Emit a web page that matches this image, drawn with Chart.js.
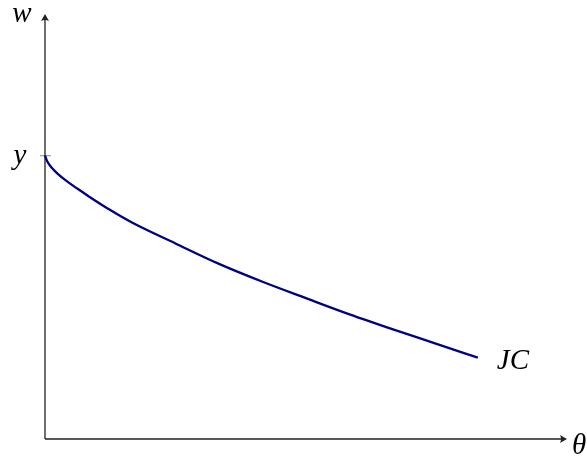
<!DOCTYPE html>
<html>
<head>
<meta charset="utf-8">
<script src="https://cdn.jsdelivr.net/npm/chart.js@4/dist/chart.umd.min.js"></script>
<style>
  html, body { margin: 0; padding: 0; background: #fff; }
  #wrap { width: 587px; height: 459px; }
</style>
</head>
<body>
<div id="wrap"><canvas id="jcChart" width="587" height="459"></canvas></div>
<script>
// theta values (x) and wage values (y)
const thetaVals = [0, 0.05, 0.15, 0.3, 0.5, 0.75, 1, 1.5, 2, 3, 4, 5, 6, 7, 8, 9, 9.95];
const wageVals = [10, 9.8, 9.58, 9.35, 9.1, 8.83, 8.57, 8.08, 7.64, 6.9, 6.18, 5.55, 4.97, 4.4, 3.87, 3.36, 2.87];
const yTickVals = [10];
const yTickLabels = ['y'];
const curveLabel = 'JC';
const xAxisLabel = 'θ';
const yAxisLabel = 'w';

const labelFont = 'italic 29px "Liberation Serif", "DejaVu Serif", serif';

function drawArrow(ctx, x, y, dir) {
    // small latex-like arrow head, dir: 'up' or 'right'
    ctx.save();
    ctx.translate(x, y);
    if (dir === 'up') ctx.rotate(-Math.PI / 2);
    ctx.beginPath();
    ctx.moveTo(0, 0);
    ctx.lineTo(-7, -4);
    ctx.quadraticCurveTo(-5, 0, -7, 4);
    ctx.closePath();
    ctx.fillStyle = '#222';
    ctx.fill();
    ctx.restore();
}

const axesPlugin = {
    id: 'axesPlugin',
    beforeDatasetsDraw(chart) {
        const ctx = chart.ctx;
        const xs = chart.scales.x;
        const ys = chart.scales.y;
        const x0 = xs.getPixelForValue(0);
        const y0 = ys.getPixelForValue(0);
        const xEnd = xs.getPixelForValue(xs.max);
        const yEnd = ys.getPixelForValue(ys.max);

        ctx.save();
        // tick marks
        ctx.strokeStyle = '#9a9a9a';
        ctx.lineWidth = 1.2;
        yTickVals.forEach(v => {
            const py = ys.getPixelForValue(v);
            ctx.beginPath();
            ctx.moveTo(x0 - 5, py);
            ctx.lineTo(x0 + 6, py);
            ctx.stroke();
        });

        // axes
        ctx.strokeStyle = '#222';
        ctx.lineWidth = 1.3;
        ctx.beginPath();
        ctx.moveTo(x0, y0);
        ctx.lineTo(x0, yEnd + 3);
        ctx.moveTo(x0, y0);
        ctx.lineTo(xEnd - 3, y0);
        ctx.stroke();
        drawArrow(ctx, x0, yEnd, 'up');
        drawArrow(ctx, xEnd, y0, 'right');
        ctx.restore();
    },
    afterDraw(chart) {
        const ctx = chart.ctx;
        const xs = chart.scales.x;
        const ys = chart.scales.y;
        const x0 = xs.getPixelForValue(0);
        const y0 = ys.getPixelForValue(0);
        const xEnd = xs.getPixelForValue(xs.max);
        const yEnd = ys.getPixelForValue(ys.max);

        ctx.save();
        ctx.fillStyle = '#000';
        ctx.font = labelFont;
        ctx.textBaseline = 'alphabetic';

        ctx.textAlign = 'center';
        ctx.fillText(yAxisLabel, x0 - 23, yEnd + 8);

        yTickVals.forEach((v, i) => {
            ctx.fillText(yTickLabels[i], x0 - 25, ys.getPixelForValue(v) + 8);
        });

        ctx.textAlign = 'left';
        ctx.fillText(xAxisLabel, xEnd + 5, y0 + 15);

        const lastX = xs.getPixelForValue(thetaVals[thetaVals.length - 1]);
        const lastY = ys.getPixelForValue(wageVals[wageVals.length - 1]);
        ctx.fillText(curveLabel, lastX + 19, lastY + 11);
        ctx.restore();
    }
};

const points = thetaVals.map((t, i) => ({ x: t, y: wageVals[i] }));

new Chart(document.getElementById('jcChart').getContext('2d'), {
    type: 'line',
    data: {
        datasets: [{
            label: curveLabel,
            data: points,
            borderColor: '#000080',
            borderWidth: 2.3,
            pointRadius: 0,
            fill: false,
            cubicInterpolationMode: 'monotone',
            clip: false
        }]
    },
    options: {
        responsive: false,
        animation: false,
        layout: {
            padding: { left: 45, right: 20, top: 14, bottom: 20 }
        },
        scales: {
            x: { type: 'linear', min: 0, max: 12, display: false },
            y: { type: 'linear', min: 0, max: 15, display: false }
        },
        plugins: {
            legend: { display: false },
            tooltip: { enabled: false }
        }
    },
    plugins: [axesPlugin]
});
</script>
</body>
</html>
